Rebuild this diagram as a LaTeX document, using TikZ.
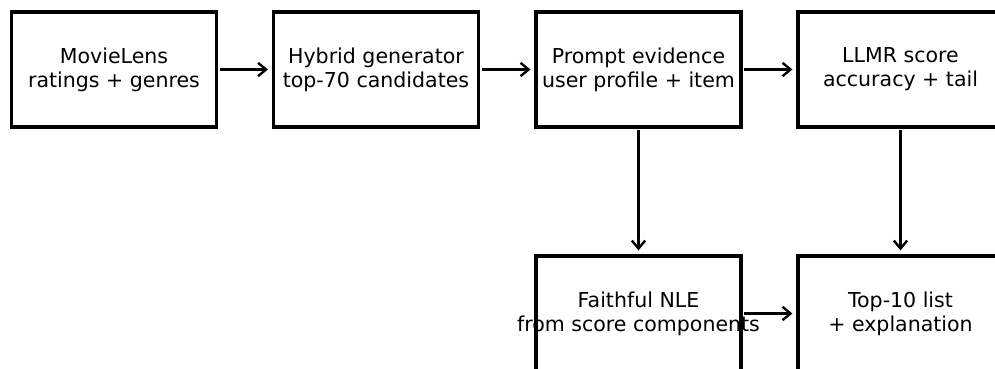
\documentclass[tikz,border=0pt]{standalone}
\usepackage{fontspec}
\setmainfont{DejaVu Sans}
\usetikzlibrary{arrows.meta}

\tikzset{
  stagebox/.style={draw=black, line width=2.4pt, minimum width=153.75pt,
    minimum height=86.25pt, inner sep=0pt, outer sep=0pt, align=center,
    font=\fontsize{15.4pt}{18pt}\selectfont},
  flow/.style={line width=1.8pt, -{Straight Barb[length=6pt, width=10pt, line width=1.8pt]},
    shorten <=2.6pt, shorten >=4.2pt}
}

\begin{document}
\begin{tikzpicture}[x=0.75pt, y=-0.75pt]
    \useasboundingbox (0,0) rectangle (995,368);
    % Top row
    \node[stagebox] (data)   at (114, 69.5)   {MovieLens\\ratings + genres};
    \node[stagebox] (gen)    at (376, 69.5)   {Hybrid generator\\top-70 candidates};
    \node[stagebox] (prompt) at (638.5, 69.5) {Prompt evidence\\user profile + item};
    \node[stagebox] (score)  at (900.5, 69.5) {LLMR score\\accuracy + tail};
    % Bottom row (second label line runs over the box edges)
    \node[stagebox] (nle)    at (638.5, 313.5) {Faithful NLE\\\makebox[0pt]{from score components}};
    \node[stagebox] (topk)   at (900.5, 313.5) {Top-10 list\\+ explanation};
    % Connectors
    \draw[flow] (data) -- (gen);
    \draw[flow] (gen) -- (prompt);
    \draw[flow] (prompt) -- (score);
    \draw[flow] (prompt) -- (nle);
    \draw[flow] (score) -- (topk);
    \draw[flow] (nle) -- (topk);
  \end{tikzpicture}
\end{document}
